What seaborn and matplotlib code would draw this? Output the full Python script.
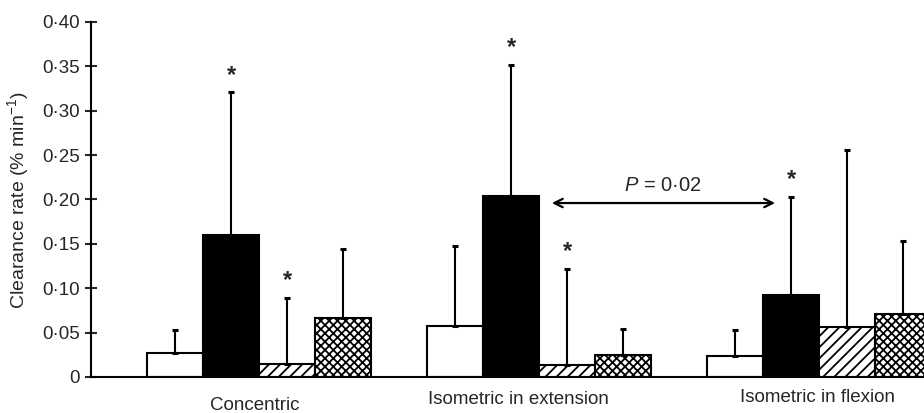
import numpy as np
import pandas as pd
import seaborn as sns
import matplotlib.pyplot as plt
from matplotlib.ticker import FixedLocator, FixedFormatter

# --- data ---
categories = ["Concentric", "Isometric in extension", "Isometric in flexion"]
series = ["S1", "S2", "S3", "S4"]

mean_s1 = [0.027, 0.057, 0.024]
mean_s2 = [0.160, 0.204, 0.092]
mean_s3 = [0.015, 0.014, 0.056]
mean_s4 = [0.067, 0.025, 0.071]

# upper error (SD) lengths
err_s1 = [0.026, 0.091, 0.029]
err_s2 = [0.161, 0.148, 0.111]
err_s3 = [0.074, 0.108, 0.200]
err_s4 = [0.077, 0.029, 0.082]

# (category index, series index) with an asterisk
stars = [(0, 1), (0, 2), (1, 1), (1, 2), (2, 1)]

y_ticks = [0, 0.05, 0.10, 0.15, 0.20, 0.25, 0.30, 0.35, 0.40]
y_tick_labels = ["0", "0·05", "0·10", "0·15", "0·20", "0·25", "0·30", "0·35", "0·40"]

p_text = "$P$ = 0·02"

means = [mean_s1, mean_s2, mean_s3, mean_s4]
errs = [err_s1, err_s2, err_s3, err_s4]
df = pd.DataFrame({
    "Condition": categories * 4,
    "Series": [s for s in series for _ in categories],
    "Rate": sum(means, []),
})

sns.set_theme(style="white")
plt.rcParams['font.family'] = ['Liberation Sans', 'DejaVu Sans']
plt.rcParams['mathtext.fontset'] = 'custom'
plt.rcParams['mathtext.rm'] = 'Liberation Sans'
plt.rcParams['mathtext.it'] = 'Liberation Sans:italic'
plt.rcParams['hatch.linewidth'] = 1.3

fig = plt.figure(figsize=(9.24, 4.13), dpi=100)
ax = fig.add_axes([0.0985, 0.0872, 0.9015, 0.8596])

sns.barplot(data=df, x="Condition", y="Rate", hue="Series",
            palette=["white", "black", "white", "white"],
            edgecolor="black", linewidth=1.5, width=0.8,
            saturation=1, errorbar=None, legend=False, ax=ax)

hatches = ["", "", "///", "xxxx"]
bar_containers = list(ax.containers)
for k, cont in enumerate(bar_containers):
    xs = []
    for bar in cont.patches:
        bar.set_hatch(hatches[k])
        xs.append(bar.get_x() + bar.get_width() / 2)
    ax.errorbar(xs, means[k], yerr=[np.zeros(3), errs[k]], fmt="none",
                ecolor="black", elinewidth=1.5, capsize=2.5, capthick=2.2,
                zorder=1)
    for i, j in stars:
        if j == k:
            ax.annotate("*", (xs[i], means[k][i] + errs[k][i]),
                        xytext=(0, 4), textcoords="offset points",
                        ha="center", va="bottom", fontsize=17, fontweight="bold")

# P = 0.02 arrow between the black bars of groups 2 and 3
ax.annotate("", xy=(1.046, 0.196), xytext=(1.843, 0.196),
            arrowprops=dict(arrowstyle="<->,head_length=0.5,head_width=0.25",
                            color="black", lw=1.6, shrinkA=0, shrinkB=0))
ax.text(1.443, 0.216, p_text, ha="center", va="center", fontsize=14.5)

ax.set_xlim(-0.6, 2.375)
ax.set_ylim(0, 0.40)
ax.yaxis.set_major_locator(FixedLocator(y_ticks))
ax.yaxis.set_major_formatter(FixedFormatter(y_tick_labels))
ax.tick_params(axis="y", direction="inout", length=8, width=1.5,
               labelsize=13.5, pad=4, left=True)
ax.set_xticks([])
ax.set_xlabel("")
ax.set_ylabel("")

for s in ["top", "right"]:
    ax.spines[s].set_visible(False)
for s in ["left", "bottom"]:
    ax.spines[s].set_linewidth(1.5)
    ax.spines[s].set_color("black")

fig.text(18 / 924, 1 - 200 / 413, "Clearance rate (% min$^{-1}$)",
         rotation=90, ha="center", va="center", fontsize=14)

# group labels sit at slightly different heights below the axis
label_pos = [(255, 405), (518, 400), (817, 398)]
for name, (px, py) in zip(categories, label_pos):
    fig.text(px / 924, 1 - py / 413, name, ha="center", va="center", fontsize=13.5)

fig.savefig("out.png", dpi=100)
